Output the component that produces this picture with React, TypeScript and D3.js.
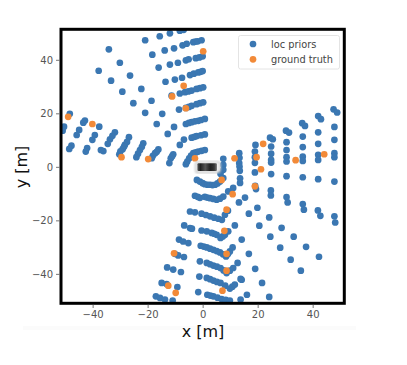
import { useEffect, useRef } from 'react';
import * as d3 from 'd3';

type Pt = [number, number];

// lane priors
const topArm: Pt[] = [
  [-20.9, 47.3], [-15.6, 48.8], [-11.9, 49.9], [-8.3, 50.9], [-6.9, 51.2],
  [-18.3, 41.9], [-13.8, 43.5], [-10.4, 44.3], [-7.3, 45.4], [-5.8, 46], [-3.4, 46.6], [-2.6, 46.8], [-1.8, 46.9], [-0.4, 47.3],
  [-16, 37.1], [-11.9, 38.2], [-9, 38.9], [-6.1, 39.8], [-5.1, 40.2], [-2.5, 40.6], [-1.2, 40.9], [0, 41.3],
  [-13.5, 31.8], [-10.1, 32.6], [-7.5, 33.3], [-4.6, 34.3], [-3.2, 34.8], [-1.6, 35.3], [-0.8, 35.5], [0, 35.8],
  [-11.3, 26.6], [-8.3, 27.4], [-6.4, 27.9], [-5.2, 28.2], [-4, 28.5], [-2.2, 29.1], [-1, 29.4], [0.2, 29.7],
  [-8.6, 21.4], [-6.1, 22], [-5, 22.4], [-4, 22.8], [-2.2, 23.4], [-1, 23.8], [0.2, 24.1],
  [-6.1, 16], [-5, 16.4], [-4, 16.7], [-2.8, 17], [-1.6, 17.2], [-0.6, 17.5], [0.8, 17.9],
  [-8.3, 8.2], [-6.8, 10.2], [-4, 10.9], [-3, 11.2], [-2.2, 11.5], [-0.6, 11.8], [0.8, 12.1],
  [-6.1, 1], [-5.6, 2], [-4.9, 3.2], [-4.2, 4.2], [-3.4, 5.1], [-2.5, 5.4], [-1.6, 5.7], [-0.4, 6], [0.8, 6.3],
];

const sparseUpperLeft: Pt[] = [
  [-34.1, 43.9], [-30.1, 38.9], [-37.8, 35.9], [-33.3, 32.2], [-26.4, 34.1], [-29.2, 28.1], [-22.3, 29.1],
  [-25.2, 23.8], [-18.6, 24.7], [-20.9, 20.2], [-14.7, 19.8], [-16.7, 16], [-10.4, 14.9], [-12.7, 12.3],
];

const leftArm: Pt[] = [
  [-48.3, 19.8], [-42.8, 17.3], [-43.4, 16.5], [-37.6, 15], [-31.9, 12.9], [-26.8, 11.1], [-21.6, 8.8], [-16.1, 6.5], [-10.7, 4.7],
  [-50.4, 15], [-50.9, 13.5], [-44.9, 13.8], [-45.8, 11.9], [-39.2, 11.9], [-40.1, 10.1], [-33.7, 10.3], [-32.8, 11.6], [-34.5, 8.6],
  [-27.5, 9.3], [-28.3, 8.2], [-28.6, 7.5], [-29.1, 6.6], [-22.8, 6.3], [-22.1, 7.5], [-23.5, 4.9], [-17.3, 5.1], [-16.7, 5.6], [-18.1, 4.1], [-11.6, 3.2], [-11.1, 4],
  [-47.7, 7.9], [-48.5, 6.7], [-42, 7], [-42.5, 5.7], [-36.1, 5.9], [-37, 6.3], [-30.3, 4.7], [-29.9, 5.8], [-24.1, 3.6], [-18.5, 3.2], [-12.1, 1.4],
];

const rightArm: Pt[] = [
  [7.5, 3], [7.5, 0.7], [7.5, -1.1], [6.5, -2.6],
  [13.3, 5.1], [13.4, 3.4], [13.3, 1.4], [13.4, 0.1], [13.5, -1.5], [13.6, -4.3], [13.6, -6],
  [19.2, 8.2], [19, 5.7], [19, 3.6], [19, 1.5], [19, -2.1], [19.1, -7.1], [19.4, -8.3],
  [24.5, 10.9], [25.5, 10.3], [24.9, 7.6], [24.9, 4.9], [24.9, 2.6], [24.9, 1.6], [24.9, -2.7], [24.8, -8.8], [24.8, -10.7],
  [30.3, 13.5], [31.4, 12.8], [30.5, 9.2], [30.5, 6.3], [30.5, 3.6], [30.5, 2], [30.5, -3.5], [30.5, -11.3], [30.9, -13.3],
  [36.2, 16.3], [37.2, 15.3], [36.4, 11.3], [36.4, 7.4], [36.4, 3.8], [36.4, 2.2], [36.4, -3.9], [36.4, -13.9], [36.8, -16],
  [42, 19], [43, 17.8], [42, 12.9], [42, 8.6], [42, 4.5], [42, 2.6], [42, -4.6], [41.9, -16.3], [42.8, -18.3],
  [47.6, 21.5], [48.9, 20.3], [47.9, 14.9], [47.9, 10.1], [47.9, 5.1], [47.9, 3.6], [47.9, -5.5], [47.9, -18.5], [48.2, -20.8],
];

const sparseLowerRight: Pt[] = [
  [11.1, -7.9], [13.2, -13.3], [15.4, -11.5], [16.8, -17.5], [19.9, -15.3], [20.6, -22], [24.2, -18.9], [24.6, -26.1],
  [28.7, -22.8], [28.2, -30.2], [33.1, -26.1], [32, -34.7], [37.6, -29.9], [35.7, -38.8], [42.3, -33.6],
  [11.7, -21.9], [14.2, -27.2], [16.8, -32.5], [19.1, -38.1], [14.2, -42.2], [21.6, -43.4], [16.1, -47.8], [24.2, -48.6],
];

const bottomArm: Pt[] = [
  [-2.1, -4.9], [-1, -5.5], [0, -6.1], [0.8, -6.5], [1.8, -6.7], [2.7, -6.7], [3.6, -6.8], [4.5, -6.7], [5.4, -6.2], [6.3, -5.5], [7.5, -4.2],
  [-2.8, -10.8], [-1.8, -11.2], [-1, -11.6], [0.8, -11.2], [1.7, -11.5], [2.7, -11.7], [3.9, -12], [5.1, -12.3], [6.3, -11.9], [7.5, -11.1], [9.3, -9.2],
  [-4.6, -16.7], [-2.8, -17], [-0.4, -17.5], [1.2, -18], [2.7, -18.5], [4.2, -19], [5.7, -19.4], [7, -19.8], [8.1, -17.9], [9.2, -16.4],
  [-6.7, -21.9], [-4.6, -22.9], [-3.9, -23.1], [-0.4, -23.8], [1.5, -24.1], [3.3, -24.7], [4.2, -25], [5.1, -25.4], [6.5, -26.6], [7.3, -26], [8.1, -25.4], [9.3, -24.1],
  [-8.6, -27.2], [-7.1, -27.9], [-5.2, -28.5], [-0.7, -29.5], [0.4, -29.8], [1.5, -30.1], [2.7, -30.6], [3.9, -31], [5.1, -31.5], [6.3, -32], [7.4, -32.7], [8.5, -33.5], [9.2, -32.6], [9.9, -31.6], [10.9, -30.1],
  [-10.1, -32.5], [-8.9, -33.1], [-6.8, -33.7], [-1, -35.3], [1.5, -35.9], [2.7, -36.4], [3.9, -36.9], [5.2, -37.3], [6.5, -37.8], [7.6, -38.7], [8.7, -39.7], [9.9, -38.8], [11.1, -37.8], [12.7, -35.9],
  [-12.9, -37.6], [-10.7, -38.4], [-7.9, -39.3], [-1.2, -41], [1.5, -41.5], [2.7, -42], [3.9, -42.5], [5.2, -43], [6.5, -43.4], [8.2, -44.4], [9.9, -45.5], [10.8, -44.8], [11.7, -44], [13.8, -41.9],
  [-14.9, -43.4], [-13.1, -43.8], [-9.2, -44.9], [-1.6, -46.8], [1.7, -47.8], [2.8, -48.1], [3.9, -48.4], [5.4, -48.9], [6.9, -49.4], [8.4, -49.7], [9.9, -50], [13.8, -49.6],
  [-17, -48.4], [-15.5, -49], [-13.7, -49.6], [-10.9, -50],
];

const groundTruth: Pt[] = [
  [0.2, 43.2], [-6.9, 30.3], [-11.1, 26.3], [-6.1, 21.9], [-48.9, 18.7], [-40.1, 16], [-29.5, 3.6], [-19.8, 2.9], [-2.8, 3.2],
  [11.6, 3.2], [19.6, 3.6], [22, 8.6], [21.2, -0.9], [19, -7.3], [33.8, 2.5], [44.2, 4.7],
  [6.9, -4.9], [10.9, -10.2], [8.7, -16], [7.9, -23.9], [8.7, -32.5], [8.7, -38.8], [7.2, -46.3],
  [-10.4, -32.3], [-12.5, -44.4], [-9.8, -47.1],
];

const locPriors = [...topArm, ...sparseUpperLeft, ...leftArm, ...rightArm, ...sparseLowerRight, ...bottomArm];

const xTicks = [-40, -20, 0, 20, 40];
const yTicks = [-40, -20, 0, 20, 40];
const legendLabels = ['loc priors', 'ground truth'];

const BLUE = '#3a77b2';
const ORANGE = '#f28a38';
const DOT_R = 3.35;

export default function App() {
  const svgRef = useRef<SVGSVGElement>(null);

  useEffect(() => {
    const svg = d3.select(svgRef.current);
    svg.selectAll('*').remove();

    const x = d3.scaleLinear().domain([-51.5, 51.5]).range([61, 344.3]);
    const y = d3.scaleLinear().domain([-51, 51.4]).range([303.3, 29.3]);

    const defs = svg.append('defs');
    defs.append('filter').attr('id', 'soft').append('feGaussianBlur').attr('stdDeviation', 0.45);
    defs.append('filter').attr('id', 'glow').append('feGaussianBlur').attr('stdDeviation', 1);
    defs.append('clipPath').attr('id', 'plot').append('rect')
      .attr('x', 61).attr('y', 29.3).attr('width', 283.3).attr('height', 274);
    const carFill = defs.append('linearGradient').attr('id', 'carFill');
    [['0%', '#555'], ['15%', '#222'], ['40%', '#555'], ['65%', '#222'], ['85%', '#333'], ['100%', '#777']]
      .forEach(([offset, color]) => carFill.append('stop').attr('offset', offset).attr('stop-color', color));

    // faint strip left over under the figure
    svg.append('rect').attr('x', 23).attr('y', 326).attr('width', 333).attr('height', 4).attr('fill', '#fbfbfb');

    const plot = svg.append('g').attr('clip-path', 'url(#plot)');
    const marks = plot.append('g').attr('filter', 'url(#soft)');
    marks.selectAll('circle.prior').data(locPriors).enter().append('circle')
      .attr('class', 'prior')
      .attr('cx', d => x(d[0])).attr('cy', d => y(d[1])).attr('r', DOT_R).attr('fill', BLUE);
    marks.selectAll('circle.truth').data(groundTruth).enter().append('circle')
      .attr('class', 'truth')
      .attr('cx', d => x(d[0])).attr('cy', d => y(d[1])).attr('r', DOT_R).attr('fill', ORANGE);

    // ego car sits at the origin as a small blurry picture
    const car = plot.append('g');
    car.append('rect')
      .attr('x', x(-2.6)).attr('y', y(2)).attr('width', x(6.4) - x(-2.6)).attr('height', y(-2.2) - y(2))
      .attr('rx', 3).attr('fill', '#efefef').attr('stroke', '#bbb').attr('stroke-width', 1.2).attr('filter', 'url(#glow)');
    car.append('rect')
      .attr('x', x(-1.9)).attr('y', y(1.3)).attr('width', x(5.2) - x(-1.9)).attr('height', y(-1.6) - y(1.3))
      .attr('rx', 1).attr('fill', 'url(#carFill)').attr('filter', 'url(#soft)');

    // frame
    svg.append('rect').attr('x', 61).attr('y', 29.3).attr('width', 283.3).attr('height', 274)
      .attr('fill', 'none').attr('stroke', '#000').attr('stroke-width', 3);

    const xAxis = svg.append('g').attr('transform', 'translate(0,304.5)')
      .call(d3.axisBottom(x).tickValues(xTicks).tickSizeOuter(0).tickSize(3.5).tickPadding(3));
    const yAxis = svg.append('g').attr('transform', 'translate(59.5,0)')
      .call(d3.axisLeft(y).tickValues(yTicks).tickSizeOuter(0).tickSize(3.5).tickPadding(3));
    [xAxis, yAxis].forEach(a => {
      a.select('.domain').remove();
      a.selectAll('line').attr('stroke', '#555').attr('stroke-width', 0.8);
      a.selectAll('text').attr('fill', '#555').attr('font-family', 'DejaVu Sans, sans-serif').attr('font-size', 10);
    });

    svg.append('text').attr('x', 203).attr('y', 337).attr('text-anchor', 'middle')
      .attr('font-family', 'DejaVu Sans, sans-serif').attr('font-size', 16).attr('fill', '#111').text('x [m]');
    svg.append('text').attr('transform', 'translate(27,167) rotate(-90)').attr('text-anchor', 'middle')
      .attr('font-family', 'DejaVu Sans, sans-serif').attr('font-size', 16).attr('fill', '#111').text('y [m]');

    // legend
    const legend = svg.append('g');
    legend.append('rect').attr('x', 238.5).attr('y', 35.5).attr('width', 101).attr('height', 33.5).attr('rx', 2)
      .attr('fill', '#fff').attr('fill-opacity', 0.85).attr('stroke', '#ddd').attr('stroke-width', 0.8);
    legendLabels.forEach((label, i) => {
      legend.append('circle').attr('cx', 253).attr('cy', 44 + i * 15.3).attr('r', DOT_R)
        .attr('fill', i ? ORANGE : BLUE).attr('filter', 'url(#soft)');
      legend.append('text').attr('x', 271).attr('y', 47.5 + i * 15.3)
        .attr('font-family', 'DejaVu Sans, sans-serif').attr('font-size', 9.8).attr('fill', '#444').text(label);
    });
  }, []);

  return <svg ref={svgRef} width={407} height={365} style={{ position: 'absolute', left: 0, top: 0 }} />;
}
